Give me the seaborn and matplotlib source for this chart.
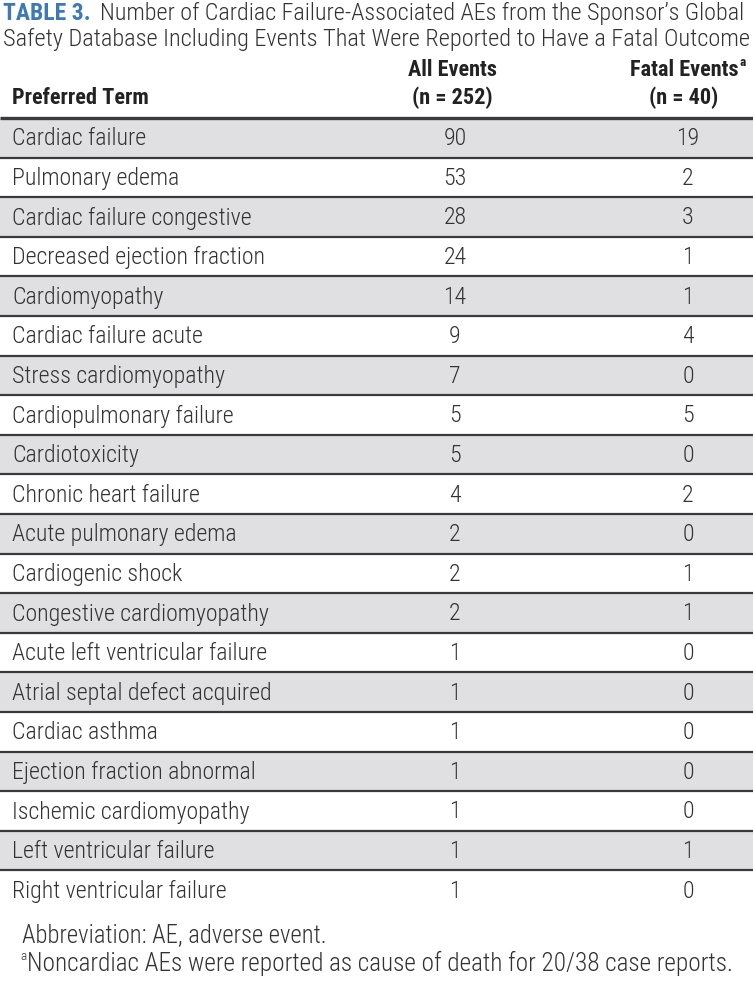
import matplotlib
matplotlib.use("Agg")
import matplotlib.pyplot as plt
import seaborn as sns

terms = [
    "Cardiac failure", "Pulmonary edema", "Cardiac failure congestive",
    "Decreased ejection fraction", "Cardiomyopathy", "Cardiac failure acute",
    "Stress cardiomyopathy", "Cardiopulmonary failure", "Cardiotoxicity",
    "Chronic heart failure", "Acute pulmonary edema", "Cardiogenic shock",
    "Congestive cardiomyopathy", "Acute left ventricular failure",
    "Atrial septal defect acquired", "Cardiac asthma",
    "Ejection fraction abnormal", "Ischemic cardiomyopathy",
    "Left ventricular failure", "Right ventricular failure",
]
all_events = [90, 53, 28, 24, 14, 9, 7, 5, 5, 4, 2, 2, 2, 1, 1, 1, 1, 1, 1, 1]
fatal_events = [19, 2, 3, 1, 1, 4, 0, 5, 0, 2, 0, 1, 1, 0, 0, 0, 0, 0, 1, 0]

title_lead = "TABLE 3."
title_1 = "Number of Cardiac Failure-Associated AEs from the Sponsor\u2019s Global"
title_2 = "Safety Database Including Events That Were Reported to Have a Fatal Outcome"
footnotes = ["Abbreviation: AE, adverse event.",
             "Noncardiac AEs were reported as cause of death for 20/38 case reports."]

sns.set_theme(style="white")
plt.rcParams["font.family"] = ["Roboto Condensed", "Liberation Sans Narrow", "Roboto", "DejaVu Sans"]

W, H = 753, 985
fig = plt.figure(figsize=(W / 100, H / 100), dpi=100)
ax = fig.add_axes([0, 0, 1, 1])
ax.set_xlim(0, W)
ax.set_ylim(H, 0)
ax.axis("off")

txt = "#333333"
blue = "#3d7ab5"
gray = "#e0dfe1"
line = "#3a3a3a"
fs = 17.2
fs_head = 16
lw_txt = "light"

# title
t = ax.text(3, 13, title_lead, color=blue, fontsize=17, fontweight="bold", va="center")
fig.canvas.draw()
bb = t.get_window_extent()
ax.text(bb.x1 + 9, 13, title_1, color=txt, fontsize=17.4, fontweight=lw_txt, va="center")
ax.text(3, 39, title_2, color=txt, fontsize=17.6, fontweight=lw_txt, va="center")

# header
c1, c2 = 452, 684
hk = dict(color="#222222", fontsize=fs_head, fontweight="bold", va="center")
ax.text(12, 98, "Preferred Term", **hk)
ax.text(c1, 70, "All Events", ha="center", **hk)
ax.text(c1, 98, "(n = 252)", ha="center", **hk)
fe = ax.text(c2, 70, "Fatal Events", ha="center", **hk)
fig.canvas.draw()
fb = fe.get_window_extent()
ax.text(fb.x1 + 1, 63, "a", color="#222222", fontsize=fs_head * 0.6, fontweight="bold", va="center")
ax.text(c2, 98, "(n = 40)", ha="center", **hk)

top = 118
rh = 39.6
n1, n2 = 455, 688
ax.plot([0, W], [top, top], color=line, lw=2.4, solid_capstyle="butt")
for i, (term, a, f) in enumerate(zip(terms, all_events, fatal_events)):
    y0 = top + i * rh
    if i % 2 == 0:
        ax.axhspan(y0 + 1, y0 + rh - 1, color=gray, lw=0)
    yc = y0 + rh / 2 + 1
    ax.text(12, yc, term, color=txt, fontsize=fs, fontweight=lw_txt, va="center")
    ax.text(n1, yc, str(a), color=txt, fontsize=fs, fontweight=lw_txt, va="center", ha="center")
    ax.text(n2, yc, str(f), color=txt, fontsize=fs, fontweight=lw_txt, va="center", ha="center")
    if i < len(terms) - 1:
        ax.plot([0, W], [y0 + rh, y0 + rh], color=line, lw=1.6, solid_capstyle="butt")

ax.text(22, 935, footnotes[0], color=txt, fontsize=17.7, fontweight=lw_txt, va="center")
ax.text(20, 957, "a", color=txt, fontsize=9.5, fontweight=lw_txt, va="center")
ax.text(27, 963, footnotes[1], color=txt, fontsize=18.2, fontweight=lw_txt, va="center")

fig.savefig("out.png", dpi=100)
